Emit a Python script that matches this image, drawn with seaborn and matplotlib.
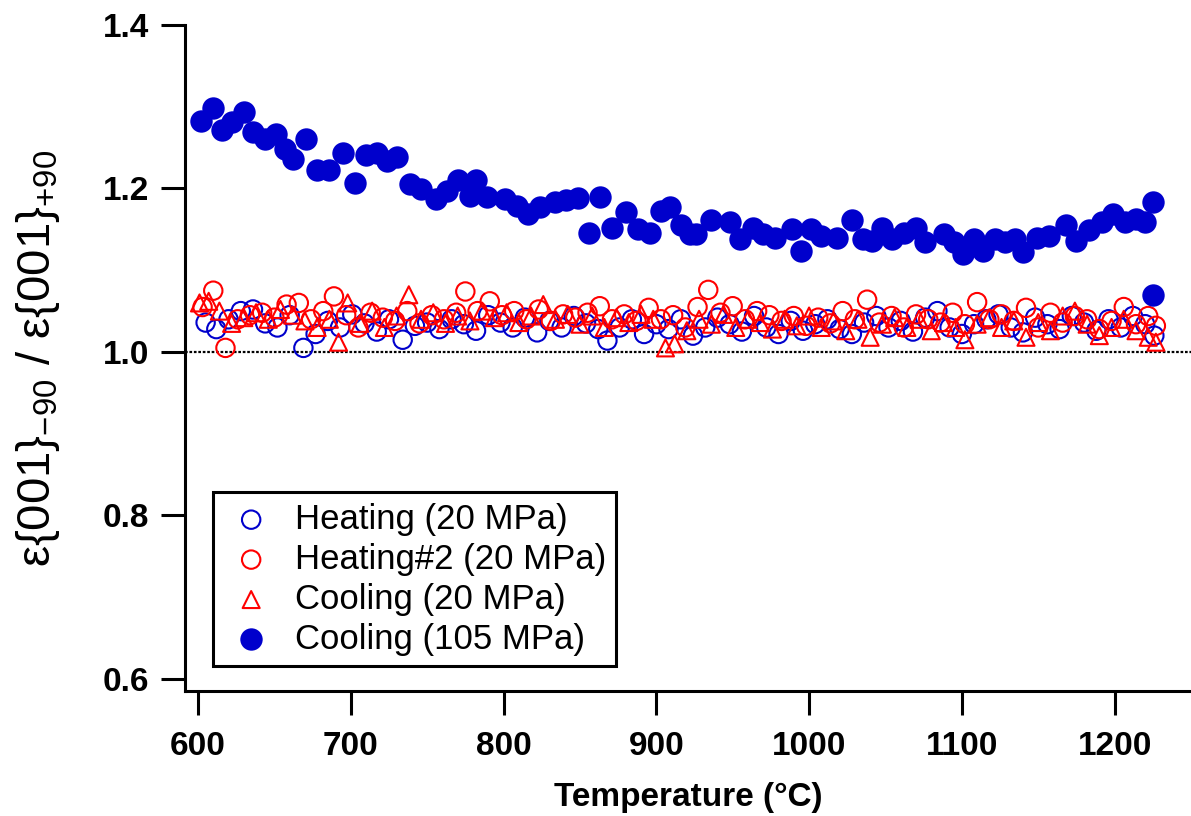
import matplotlib
matplotlib.use("Agg")
import matplotlib.pyplot as plt
import seaborn as sns
import pandas as pd

# ---------------- data ----------------
heat_T = [605, 612, 620, 628, 636, 644, 652, 660, 669, 677, 685, 693, 701, 709, 717, 725,
          734, 742, 750, 758, 766, 774, 782, 790, 798, 806, 814, 822, 830, 838, 846, 854,
          862, 868, 876, 884, 892, 900, 908, 916, 924, 932, 940, 948, 956, 964, 972, 980,
          988, 996, 1004, 1012, 1020, 1028, 1036, 1044, 1052, 1060, 1068, 1076, 1084, 1092,
          1100, 1108, 1116, 1124, 1132, 1140, 1148, 1156, 1164, 1172, 1180, 1188, 1196,
          1204, 1212, 1220, 1226]
heat_v = [1.036, 1.028, 1.040, 1.050, 1.052, 1.035, 1.030, 1.045, 1.005, 1.022, 1.038, 1.030,
          1.046, 1.035, 1.025, 1.040, 1.015, 1.032, 1.036, 1.028, 1.040, 1.034, 1.026, 1.045,
          1.036, 1.030, 1.042, 1.024, 1.038, 1.030, 1.044, 1.035, 1.028, 1.014, 1.030, 1.040,
          1.022, 1.034, 1.028, 1.040, 1.020, 1.030, 1.042, 1.034, 1.025, 1.044, 1.030, 1.022,
          1.038, 1.026, 1.034, 1.040, 1.028, 1.022, 1.036, 1.044, 1.030, 1.038, 1.025, 1.042,
          1.050, 1.030, 1.022, 1.034, 1.040, 1.046, 1.030, 1.024, 1.042, 1.034, 1.028, 1.044,
          1.036, 1.026, 1.040, 1.030, 1.044, 1.034, 1.020]

heat2_T = [603, 610, 618, 626, 634, 642, 650, 658, 666, 674, 682, 689, 697, 705, 713, 721,
           729, 737, 745, 753, 761, 769, 775, 783, 791, 799, 807, 815, 823, 831, 839, 847,
           855, 863, 871, 879, 887, 895, 903, 911, 919, 927, 934, 942, 950, 958, 966, 974,
           982, 990, 998, 1006, 1014, 1022, 1030, 1038, 1046, 1054, 1062, 1070, 1078, 1086,
           1094, 1102, 1110, 1118, 1126, 1134, 1142, 1150, 1158, 1166, 1174, 1182, 1190,
           1198, 1206, 1214, 1222, 1227]
heat2_v = [1.055, 1.075, 1.005, 1.040, 1.045, 1.048, 1.042, 1.058, 1.060, 1.040, 1.050, 1.068,
           1.045, 1.030, 1.048, 1.042, 1.038, 1.050, 1.035, 1.045, 1.040, 1.048, 1.074, 1.050,
           1.062, 1.045, 1.050, 1.040, 1.052, 1.038, 1.046, 1.042, 1.048, 1.056, 1.040, 1.046,
           1.038, 1.054, 1.040, 1.045, 1.030, 1.055, 1.076, 1.048, 1.056, 1.040, 1.050, 1.045,
           1.038, 1.044, 1.032, 1.042, 1.035, 1.050, 1.040, 1.064, 1.036, 1.044, 1.030, 1.046,
           1.040, 1.036, 1.048, 1.034, 1.061, 1.040, 1.046, 1.038, 1.054, 1.030, 1.048, 1.036,
           1.044, 1.040, 1.028, 1.038, 1.055, 1.034, 1.044, 1.032]

cool_T = [601, 607, 614, 622, 630, 638, 646, 654, 662, 670, 678, 686, 692, 698, 706, 714,
          722, 730, 738, 746, 754, 762, 770, 778, 786, 794, 802, 810, 818, 826, 834, 842,
          850, 858, 866, 874, 882, 890, 898, 906, 912, 920, 928, 936, 944, 952, 960, 968,
          976, 984, 992, 1000, 1008, 1016, 1024, 1032, 1040, 1048, 1056, 1064, 1072, 1080,
          1088, 1096, 1102, 1110, 1118, 1126, 1134, 1142, 1150, 1158, 1166, 1174, 1182,
          1190, 1198, 1206, 1214, 1222, 1227]
cool_v = [1.060, 1.062, 1.050, 1.035, 1.042, 1.048, 1.040, 1.052, 1.045, 1.038, 1.030, 1.040,
          1.012, 1.060, 1.035, 1.050, 1.030, 1.044, 1.070, 1.040, 1.048, 1.035, 1.044, 1.038,
          1.050, 1.042, 1.048, 1.036, 1.044, 1.058, 1.040, 1.046, 1.034, 1.044, 1.030, 1.042,
          1.036, 1.046, 1.040, 1.005, 1.010, 1.026, 1.040, 1.034, 1.046, 1.030, 1.040, 1.036,
          1.028, 1.040, 1.032, 1.044, 1.030, 1.038, 1.026, 1.040, 1.018, 1.034, 1.042, 1.030,
          1.040, 1.026, 1.036, 1.030, 1.015, 1.034, 1.042, 1.030, 1.038, 1.018, 1.036, 1.026,
          1.044, 1.050, 1.034, 1.020, 1.030, 1.040, 1.026, 1.018, 1.012]

hot_T = [602, 610, 616, 622, 630, 636, 644, 651, 657, 662, 671, 678, 686, 695, 703, 710,
         717, 724, 730, 739, 746, 756, 763, 770, 778, 782, 789, 801, 809, 816, 824, 834,
         841, 849, 856, 863, 871, 880, 888, 896, 903, 909, 916, 922, 926, 936, 948, 955,
         963, 970, 978, 989, 995, 1001, 1008, 1018, 1028, 1035, 1041, 1048, 1054, 1062,
         1070, 1076, 1088, 1095, 1101, 1108, 1114, 1122, 1128, 1135, 1140, 1149, 1157,
         1168, 1175, 1183, 1192, 1199, 1207, 1214, 1220, 1225, 1225]
hot_v = [1.283, 1.299, 1.271, 1.281, 1.293, 1.269, 1.261, 1.267, 1.248, 1.236, 1.261, 1.223,
         1.223, 1.244, 1.207, 1.241, 1.244, 1.234, 1.239, 1.205, 1.199, 1.187, 1.197, 1.210,
         1.191, 1.210, 1.189, 1.187, 1.179, 1.169, 1.177, 1.183, 1.186, 1.188, 1.146, 1.189,
         1.152, 1.171, 1.150, 1.146, 1.173, 1.177, 1.155, 1.144, 1.144, 1.161, 1.159, 1.138,
         1.152, 1.144, 1.140, 1.150, 1.124, 1.150, 1.142, 1.140, 1.162, 1.138, 1.136, 1.152,
         1.138, 1.146, 1.152, 1.134, 1.144, 1.134, 1.120, 1.138, 1.124, 1.138, 1.134, 1.138,
         1.122, 1.140, 1.142, 1.155, 1.136, 1.149, 1.159, 1.169, 1.159, 1.163, 1.159, 1.184,
         1.070]

labels = ["Heating (20 MPa)", "Heating#2 (20 MPa)", "Cooling (20 MPa)", "Cooling (105 MPa)"]
yticks = [0.6, 0.8, 1.0, 1.2, 1.4]
xticks = [600, 700, 800, 900, 1000, 1100, 1200]

BLUE = "#0000CC"
RED = "#FF0000"

sns.set_theme(style="ticks")
plt.rcParams["font.family"] = ["Liberation Sans", "DejaVu Sans"]
plt.rcParams["mathtext.fontset"] = "custom"
plt.rcParams["mathtext.rm"] = "Liberation Sans"
plt.rcParams["mathtext.it"] = "Liberation Sans"
plt.rcParams["mathtext.bf"] = "Liberation Sans:bold"
plt.rcParams["text.color"] = "black"
plt.rcParams["axes.labelcolor"] = "black"
plt.rcParams["xtick.color"] = "black"
plt.rcParams["ytick.color"] = "black"

fig = plt.figure(figsize=(11.91, 8.16), dpi=100)
ax = fig.add_axes([185 / 1191, 1 - 691 / 816, (1191 - 185) / 1191, (691 - 25) / 816])

ax.axhline(1.0, color="black", lw=1.6, ls=(0, (1.2, 0.8)), zorder=1)

sns.scatterplot(x=heat_T, y=heat_v, ax=ax, marker="o", s=175, color=BLUE,
                facecolors="none", edgecolor=BLUE, linewidth=1.5, label=labels[0], zorder=2)
sns.scatterplot(x=heat2_T, y=heat2_v, ax=ax, marker="o", s=175, color=RED,
                facecolors="none", edgecolor=RED, linewidth=1.5, label=labels[1], zorder=3)
sns.scatterplot(x=cool_T, y=cool_v, ax=ax, marker="^", s=150, color=RED,
                facecolors="none", edgecolor=RED, linewidth=1.5, label=labels[2], zorder=4)
sns.scatterplot(x=hot_T, y=hot_v, ax=ax, marker="o", s=260, color=BLUE,
                edgecolor=BLUE, linewidth=0, label=labels[3], zorder=5)

ax.set_xlim(591.5, 1250)
ax.set_ylim(0.5853, 1.4)
ax.set_xticks(xticks)
ax.set_yticks(yticks)
ax.set_yticklabels([f"{t:.1f}" for t in yticks])
ax.set_xticklabels([str(t) for t in xticks])

for s in ["top", "right"]:
    ax.spines[s].set_visible(False)
for s in ["left", "bottom"]:
    ax.spines[s].set_linewidth(2.2)
    ax.spines[s].set_color("black")
ax.tick_params(axis="both", direction="out", length=17, width=2.2, colors="black",
               labelsize=24)
ax.tick_params(axis="x", pad=12)
ax.tick_params(axis="y", pad=9)
for t in ax.get_xticklabels() + ax.get_yticklabels():
    t.set_fontweight("bold")

ax.set_xlabel("Temperature (°C)", fontsize=24, fontweight="bold", labelpad=14)
ax.set_ylabel(r"$\varepsilon\{001\}_{-90}\ /\ \varepsilon\{001\}_{+90}$", fontsize=34)
ax.yaxis.set_label_coords(-0.122, 0.5)

leg = ax.legend(loc="lower left", bbox_to_anchor=(0.0278, 0.0375), borderaxespad=0,
                fontsize=25, frameon=True, fancybox=False, labelspacing=0.2,
                handletextpad=0.45, handlelength=1.6, borderpad=0.3)
leg.get_frame().set_edgecolor("black")
leg.get_frame().set_linewidth(2.2)
leg.get_frame().set_alpha(1)
for t in leg.get_texts():
    t.set_color("black")

fig.savefig("out.png", dpi=100)
